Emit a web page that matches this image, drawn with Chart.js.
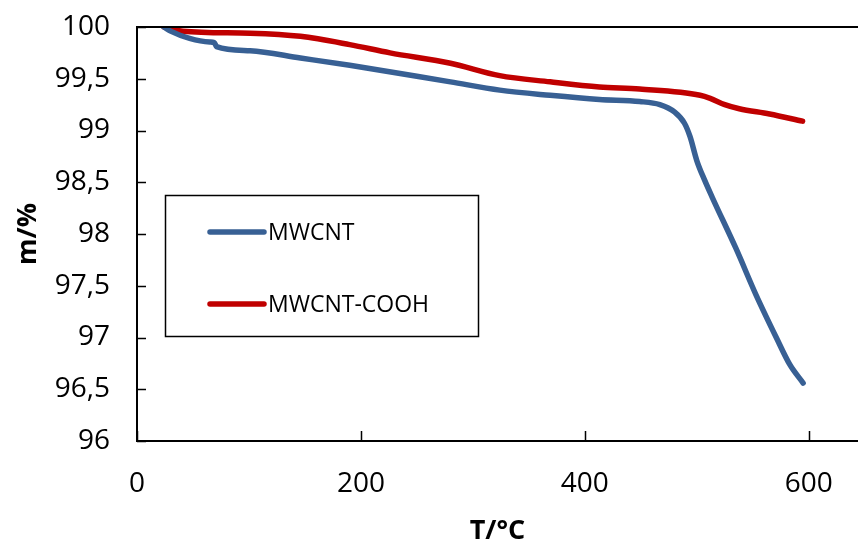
<!DOCTYPE html>
<html>
<head>
<meta charset="utf-8">
<script src="https://cdn.jsdelivr.net/npm/chart.js@4"></script>
<style>
  html, body { margin: 0; padding: 0; background: #fff; }
  #wrap { width: 858px; height: 544px; }
</style>
</head>
<body>
<div id="wrap"><canvas id="chart" width="858" height="544"></canvas></div>
<script>
// TGA curves
const mwcntT = [24, 30, 47, 65, 69, 71, 101, 146, 190, 235, 280, 324, 369, 413, 449, 467, 480, 489, 494, 500, 507, 514, 535, 553, 571, 583, 595];
const mwcntMass = [100, 99.96, 99.89, 99.855, 99.85, 99.81, 99.77, 99.70, 99.63, 99.55, 99.47, 99.39, 99.34, 99.30, 99.28, 99.25, 99.18, 99.07, 98.94, 98.71, 98.52, 98.35, 97.86, 97.41, 97.00, 96.74, 96.56];

const coohT = [24, 41, 101, 146, 190, 226, 280, 324, 369, 413, 449, 503, 512, 525, 538, 565, 594.5];
const coohMass = [100, 99.96, 99.94, 99.91, 99.83, 99.75, 99.65, 99.53, 99.47, 99.42, 99.40, 99.34, 99.31, 99.25, 99.21, 99.16, 99.09];

const seriesNames = ['MWCNT', 'MWCNT-COOH'];
const seriesColors = ['#386094', '#C00000'];
const xTicks = [0, 200, 400, 600];
const yMin = 96, yMax = 100, yStep = 0.5;
const xMin = 0, xMax = 644;

const FONT = '"Open Sans", sans-serif';

const toPoints = (xs, ys) => xs.map((x, i) => ({ x, y: ys[i] }));

// frame + inward tick marks + boxed legend
const framePlugin = {
  id: 'frame',
  afterDraw(chart) {
    const { ctx, chartArea: a, scales: { x, y } } = chart;
    ctx.save();
    ctx.strokeStyle = '#000';
    ctx.lineWidth = 2;
    ctx.beginPath();
    ctx.moveTo(858, a.top); ctx.lineTo(a.left, a.top);
    ctx.lineTo(a.left, a.bottom); ctx.lineTo(858, a.bottom);
    ctx.stroke();

    ctx.lineWidth = 1.5;
    ctx.beginPath();
    y.ticks.forEach((t) => {
      const py = Math.round(y.getPixelForValue(t.value)) + 0.5;
      ctx.moveTo(a.left, py); ctx.lineTo(a.left + 9, py);
    });
    x.ticks.forEach((t) => {
      const px = Math.round(x.getPixelForValue(t.value)) + 0.5;
      ctx.moveTo(px, a.bottom); ctx.lineTo(px, a.bottom - 10);
    });
    ctx.stroke();

    // legend
    ctx.lineWidth = 1.5;
    ctx.strokeRect(165.5, 195.5, 313, 141);
    chart.data.datasets.forEach((ds, i) => {
      const ly = 232 + i * 72;
      ctx.strokeStyle = ds.borderColor;
      ctx.lineWidth = 5.5;
      ctx.lineCap = 'round';
      ctx.beginPath();
      ctx.moveTo(210, ly); ctx.lineTo(264, ly);
      ctx.stroke();
      ctx.fillStyle = '#000';
      ctx.font = '23px ' + FONT;
      ctx.textBaseline = 'middle';
      ctx.textAlign = 'left';
      ctx.fillText(ds.label, 268, ly + 1);
    });
    ctx.restore();
  }
};

new Chart(document.getElementById('chart'), {
  type: 'line',
  data: {
    datasets: [
      { label: seriesNames[0], data: toPoints(mwcntT, mwcntMass), borderColor: seriesColors[0] },
      { label: seriesNames[1], data: toPoints(coohT, coohMass), borderColor: seriesColors[1] },
    ],
  },
  options: {
    responsive: false,
    animation: false,
    devicePixelRatio: 1,
    layout: { padding: { top: 27, right: 0, left: 0, bottom: 0 } },
    elements: {
      line: { borderWidth: 5.5, cubicInterpolationMode: 'monotone', borderCapStyle: 'round', borderJoinStyle: 'round', fill: false },
      point: { radius: 0 },
    },
    plugins: { legend: { display: false }, tooltip: { enabled: false } },
    scales: {
      x: {
        type: 'linear',
        min: xMin,
        max: xMax,
        afterBuildTicks: (s) => { s.ticks = xTicks.map((v) => ({ value: v })); },
        afterFit: (s) => { s.height = 103; s.paddingLeft = 0; s.paddingRight = 0; },
        grid: { display: false, drawTicks: false },
        border: { display: false },
        ticks: { padding: 26, color: '#000', font: { family: FONT, size: 28 }, maxRotation: 0 },
        title: { display: true, text: 'T/°C', color: '#000', font: { family: FONT, size: 27, weight: 'bold' }, padding: { top: 0, bottom: -4 } },
      },
      y: {
        min: yMin,
        max: yMax,
        afterFit: (s) => { s.width = 137; s.paddingTop = 0; s.paddingBottom = 0; },
        grid: { display: false, drawTicks: false },
        border: { display: false },
        ticks: {
          stepSize: yStep,
          padding: 27,
          color: '#000',
          font: { family: FONT, size: 28 },
          callback: (v) => String(v).replace('.', ','),
        },
        title: { display: true, text: 'm/%', color: '#000', font: { family: FONT, size: 27, weight: 'bold' }, padding: { top: 12, bottom: 0 } },
      },
    },
  },
  plugins: [framePlugin],
});
</script>
</body>
</html>
